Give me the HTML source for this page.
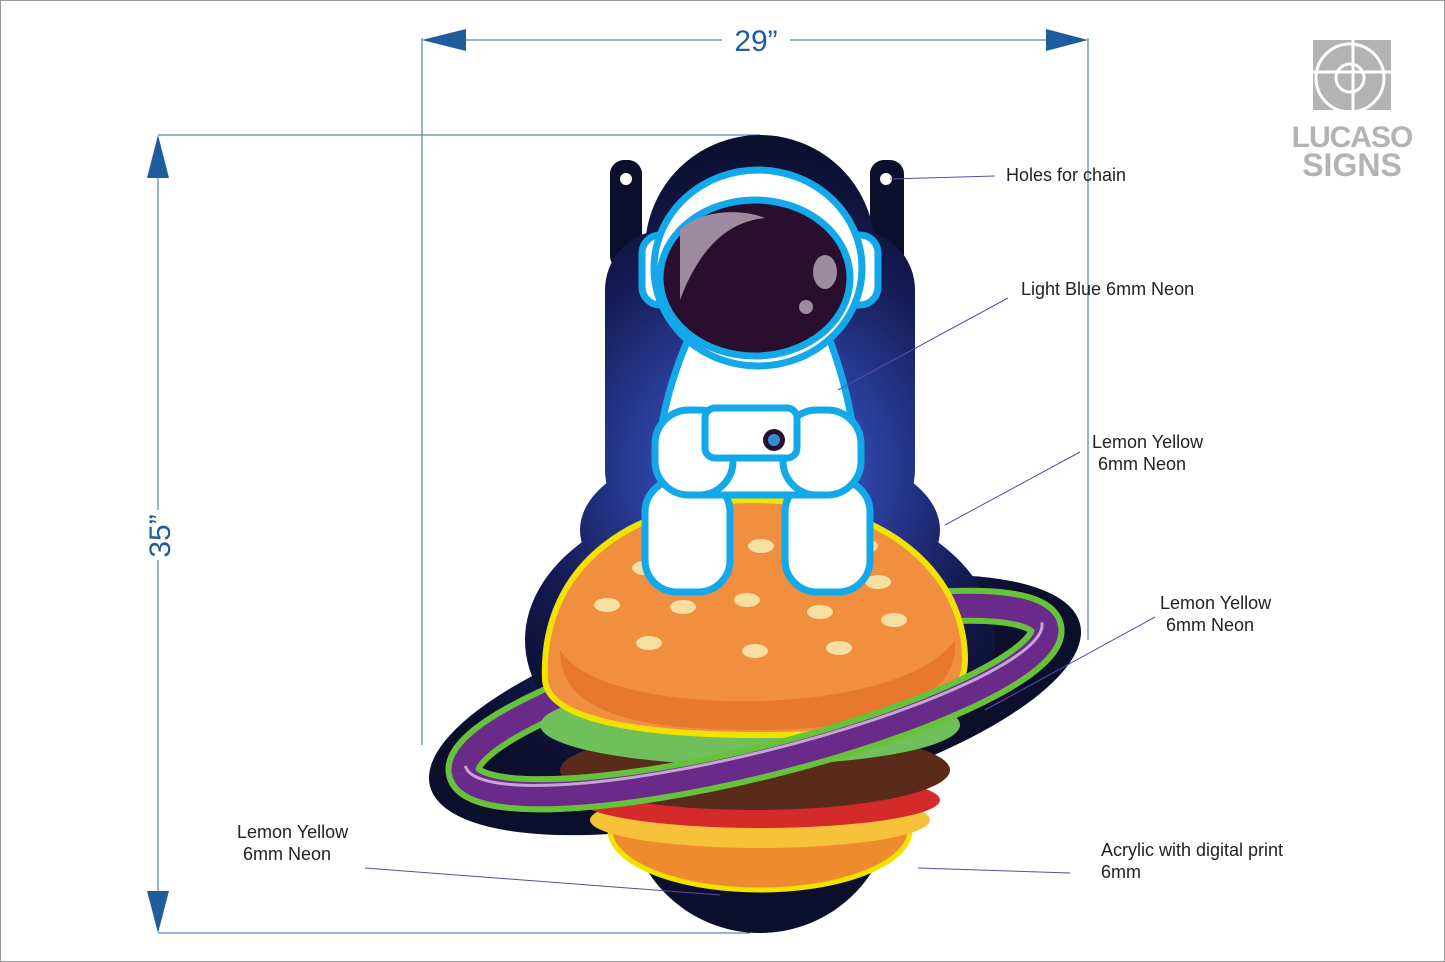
<!DOCTYPE html>
<html><head><meta charset="utf-8"><style>
html,body{margin:0;padding:0;background:#fff;}
svg{display:block;}
text{font-family:"Liberation Sans",Arial,sans-serif;}
</style></head><body>
<svg width="1445" height="962" viewBox="0 0 1445 962" xmlns="http://www.w3.org/2000/svg">
<defs>
<radialGradient id="glow" cx="760" cy="470" r="330" gradientUnits="userSpaceOnUse">
<stop offset="0" stop-color="#5a7fd8"/><stop offset="0.35" stop-color="#2b3f9e"/><stop offset="0.7" stop-color="#141a52"/><stop offset="1" stop-color="#0c0f2c"/>
</radialGradient>
</defs>
<rect x="0.5" y="0.5" width="1444" height="961" fill="#fff" stroke="#999"/>

<!-- dimension lines -->
<g stroke="#2d6aa8" stroke-width="1" fill="none">
<line x1="422" y1="38" x2="422" y2="745"/>
<line x1="1088" y1="38" x2="1088" y2="640"/>
<line x1="440" y1="40" x2="722" y2="40"/>
<line x1="790" y1="40" x2="1070" y2="40"/>
<line x1="158" y1="135" x2="760" y2="135"/>
<line x1="158" y1="933" x2="750" y2="933"/>
<line x1="158" y1="150" x2="158" y2="510"/>
<line x1="158" y1="560" x2="158" y2="920"/>
</g>
<g fill="#1f5c9c">
<polygon points="422,40 466,29 466,51"/>
<polygon points="1088,40 1046,29 1046,51"/>
<polygon points="158,135 147,178 169,178"/>
<polygon points="158,933 147,891 169,891"/>
</g>
<text x="756" y="51" font-size="30" fill="#1f5c9c" text-anchor="middle">29”</text>
<text transform="translate(170,536) rotate(-90)" font-size="30" fill="#1f5c9c" text-anchor="middle">35”</text>

<!-- logo -->
<g fill="#b3b3b3">
<rect x="1313" y="40" width="78" height="70"/>
<circle cx="1350" cy="78" r="34" fill="none" stroke="#fff" stroke-width="3"/>
<circle cx="1350" cy="78" r="14" fill="none" stroke="#fff" stroke-width="3"/>
<line x1="1313" y1="72" x2="1391" y2="72" stroke="#fff" stroke-width="3"/>
<line x1="1353" y1="40" x2="1353" y2="110" stroke="#fff" stroke-width="3"/>
<text x="1352" y="147" font-size="30" font-weight="bold" text-anchor="middle" fill="#b3b3b3" letter-spacing="-1">LUCASO</text>
<text x="1352" y="176" font-size="32" font-weight="bold" text-anchor="middle" fill="#b3b3b3">SIGNS</text>
</g>

<!-- sign backing -->
<g fill="#0c0f2c">
<rect x="610" y="160" width="32" height="110" rx="14"/>
<rect x="870" y="160" width="34" height="110" rx="14"/>
</g>
<g fill="url(#glow)">
<circle cx="760" cy="250" r="115"/>
<rect x="605" y="230" width="310" height="300" rx="60"/>
<ellipse cx="755" cy="705" rx="335" ry="105" transform="rotate(-14 755 705)"/>
<ellipse cx="760" cy="640" rx="235" ry="150"/>
<circle cx="760" cy="800" r="133"/>
<ellipse cx="760" cy="530" rx="180" ry="90"/>
</g>
<circle cx="626" cy="179" r="6" fill="#fff"/>
<circle cx="886" cy="179" r="6" fill="#fff"/>

<!-- ring full (behind) -->
<g transform="rotate(-14 755 700)">
<ellipse cx="755" cy="700" rx="300" ry="62" fill="none" stroke="#66c23a" stroke-width="36"/>
<ellipse cx="755" cy="700" rx="300" ry="62" fill="none" stroke="#6a2a8a" stroke-width="24"/>
</g>

<!-- burger bottom layers -->
<ellipse cx="760" cy="830" rx="150" ry="60" fill="#f08a2e" stroke="#f2e200" stroke-width="5"/>
<ellipse cx="760" cy="820" rx="170" ry="28" fill="#f6c23a"/>
<ellipse cx="760" cy="800" rx="180" ry="28" fill="#d42a2a"/>
<ellipse cx="755" cy="770" rx="195" ry="40" fill="#5a2a1a"/>
<ellipse cx="750" cy="725" rx="210" ry="40" fill="#6fbf5a"/>

<!-- bun dome -->
<path d="M545,680 C540,560 640,500 755,500 C880,500 965,570 965,660 C965,720 870,735 760,735 C640,735 548,720 545,680 Z" fill="#f08f40" stroke="#f2e200" stroke-width="6"/>
<path d="M560,650 C600,720 900,720 955,640 C960,700 880,730 760,730 C640,730 560,715 560,650Z" fill="#e8782e"/>
<g fill="#f6dfa0">
<ellipse cx="607" cy="605" rx="13" ry="7"/><ellipse cx="644" cy="568" rx="12" ry="7"/>
<ellipse cx="683" cy="607" rx="13" ry="7"/><ellipse cx="747" cy="600" rx="13" ry="7"/>
<ellipse cx="761" cy="546" rx="13" ry="7"/><ellipse cx="820" cy="612" rx="13" ry="7"/>
<ellipse cx="866" cy="546" rx="12" ry="7"/><ellipse cx="878" cy="582" rx="13" ry="7"/>
<ellipse cx="894" cy="620" rx="13" ry="7"/><ellipse cx="649" cy="643" rx="13" ry="7"/>
<ellipse cx="755" cy="651" rx="13" ry="7"/><ellipse cx="839" cy="648" rx="13" ry="7"/>
</g>

<!-- ring front half -->
<g transform="rotate(-14 755 700)">
<path d="M455,700 A300,62 0 0 0 1055,700" fill="none" stroke="#66c23a" stroke-width="36"/>
<path d="M455,700 A300,62 0 0 0 1055,700" fill="none" stroke="#6a2a8a" stroke-width="24"/>
<path d="M458,694 A297,58 0 0 0 1052,694" fill="none" stroke="#c9a3d8" stroke-width="3"/>
</g>

<!-- astronaut -->
<g stroke="#12a8ea" stroke-width="7" stroke-linejoin="round">
<rect x="642" y="235" width="40" height="70" rx="18" fill="#fff"/>
<rect x="838" y="235" width="40" height="70" rx="18" fill="#fff"/>
<rect x="645" y="480" width="85" height="112" rx="32" fill="#fff"/>
<rect x="785" y="480" width="85" height="112" rx="32" fill="#fff"/>
<path d="M690,335 C670,380 660,420 658,460 L700,495 L820,495 L856,460 C854,420 845,380 828,335 Z" fill="#fff"/>
<rect x="655" y="410" width="78" height="85" rx="34" fill="#fff"/>
<rect x="783" y="410" width="78" height="85" rx="34" fill="#fff"/>
<rect x="705" y="408" width="92" height="50" rx="10" fill="#fff"/>
<ellipse cx="758" cy="268" rx="104" ry="98" fill="#fff"/>
<ellipse cx="755" cy="278" rx="95" ry="78" fill="#2a0e2e"/>
</g>
<path d="M680,230 C700,210 740,208 765,218 C720,222 695,260 680,300 Z" fill="#9d8a9e"/>
<ellipse cx="825" cy="272" rx="12" ry="17" fill="#9d8a9e"/>
<circle cx="806" cy="307" r="7" fill="#9d8a9e"/>
<circle cx="774" cy="440" r="11" fill="#2a0e2e"/>
<circle cx="774" cy="440" r="6" fill="#2e8fd0"/>

<!-- leaders -->
<g stroke="#5a4ab0" stroke-width="1" fill="none">
<line x1="890" y1="179" x2="995" y2="176"/>
<line x1="838" y1="390" x2="1008" y2="298"/>
<line x1="945" y1="525" x2="1080" y2="452"/>
<line x1="985" y1="710" x2="1155" y2="617"/>
<line x1="365" y1="868" x2="720" y2="895"/>
<line x1="918" y1="868" x2="1070" y2="873"/>
</g>

<g font-size="18" fill="#222">
<text x="1006" y="181">Holes for chain</text>
<text x="1021" y="295">Light Blue 6mm Neon</text>
<text x="1092" y="448">Lemon Yellow</text>
<text x="1098" y="470">6mm Neon</text>
<text x="1160" y="609">Lemon Yellow</text>
<text x="1166" y="631">6mm Neon</text>
<text x="237" y="838">Lemon Yellow</text>
<text x="243" y="860">6mm Neon</text>
<text x="1101" y="856">Acrylic with digital print</text>
<text x="1101" y="878">6mm</text>
</g>
</svg>
</body></html>
